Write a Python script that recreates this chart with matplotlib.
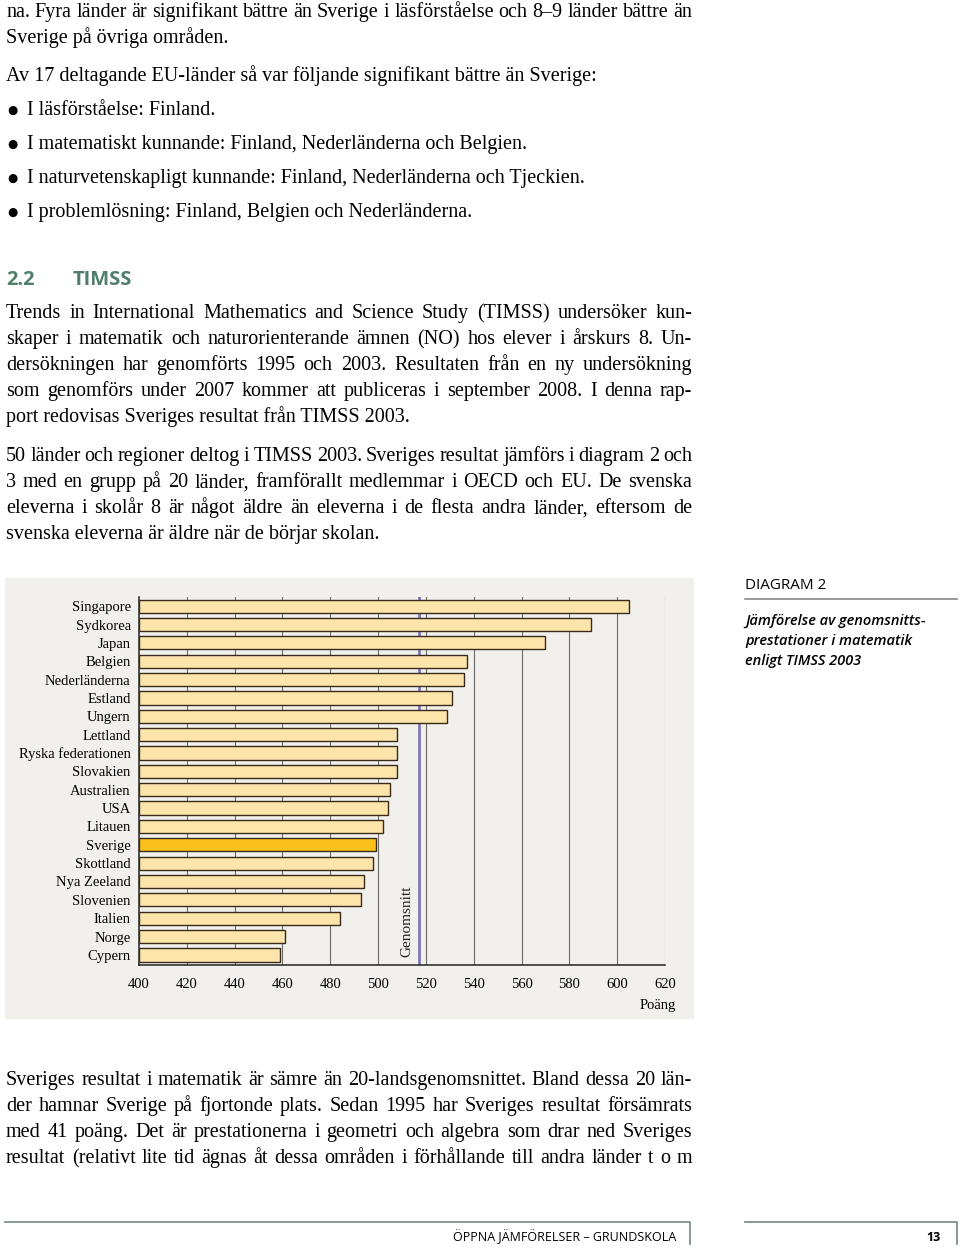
import matplotlib
matplotlib.use("Agg")
import matplotlib.pyplot as plt
from matplotlib.lines import Line2D
from matplotlib.patches import Rectangle

# Data (TIMSS 2003, mathematics, year 8)
countries = ["Singapore", "Sydkorea", "Japan", "Belgien", "Nederländerna", "Estland",
             "Ungern", "Lettland", "Ryska federationen", "Slovakien", "Australien", "USA",
             "Litauen", "Sverige", "Skottland", "Nya Zeeland", "Slovenien", "Italien",
             "Norge", "Cypern"]
scores = [605, 589, 570, 537, 536, 531, 529, 508, 508, 508, 505, 504, 502, 499, 498,
          494, 493, 484, 461, 459]
mean_score = 517
ticks = list(range(400, 621, 20))

W, H = 960, 1249
SERIF = "Liberation Serif"
SANS = "Open Sans"
BODY = 14.5

fig = plt.figure(figsize=(W / 100, H / 100), dpi=100)


def fx(x):
    return x / W


def fy(y):
    return 1 - y / H


def line(y, s, x=6, **kw):
    # y is the visual middle of the line in pixels; place on a baseline below it
    kw.setdefault("fontsize", BODY)
    kw.setdefault("family", SERIF)
    base = y + 0.27 * kw["fontsize"] * 1.389
    return fig.text(fx(x), fy(base), s, va="baseline", **kw)


def justify(y, s, x0=6, x1=692):
    words = s.split()
    objs = [line(y, w) for w in words]
    r = fig.canvas.get_renderer()
    widths = [o.get_window_extent(r).width for o in objs]
    gap = (x1 - x0 - sum(widths)) / (len(words) - 1)
    x = x0
    for o, w in zip(objs, widths):
        o.set_x(fx(x))
        x += w + gap


# ---- text above the chart ----
justify(12, "na. Fyra länder är signifikant bättre än Sverige i läsförståelse och 8–9 länder bättre än")
line(38, "Sverige på övriga områden.")
line(76, "Av 17 deltagande EU-länder så var följande signifikant bättre än Sverige:")
bullets = ["I läsförståelse: Finland.",
           "I matematiskt kunnande: Finland, Nederländerna och Belgien.",
           "I naturvetenskapligt kunnande: Finland, Nederländerna och Tjeckien.",
           "I problemlösning: Finland, Belgien och Nederländerna."]
for i, b in enumerate(bullets):
    y = 110 + 34 * i
    fig.text(fx(12), fy(y), "●", ha="center", va="center", fontsize=8.5, family="DejaVu Sans")
    line(y, b, x=27)

green = "#4f7f68"
line(280, "2.2", x=6, family=SANS, fontsize=14.5, fontweight="bold", color=green)
line(280, "TIMSS", x=73, family=SANS, fontsize=14.5, fontweight="bold", color=green)

para1 = ["Trends in International Mathematics and Science Study (TIMSS) undersöker kun-",
         "skaper i matematik och naturorienterande ämnen (NO) hos elever i årskurs 8. Un-",
         "dersökningen har genomförts 1995 och 2003. Resultaten från en ny undersökning",
         "som genomförs under 2007 kommer att publiceras i september 2008. I denna rap-"]
for i, s in enumerate(para1):
    justify(313 + 26 * i, s)
line(417, "port redovisas Sveriges resultat från TIMSS 2003.")

para2 = ["50 länder och regioner deltog i TIMSS 2003. Sveriges resultat jämförs i diagram 2 och",
         "3 med en grupp på 20 länder, framförallt medlemmar i OECD och EU. De svenska",
         "eleverna i skolår 8 är något äldre än eleverna i de flesta andra länder, eftersom de"]
for i, s in enumerate(para2):
    justify(456 + 26 * i, s)
line(534, "svenska eleverna är äldre när de börjar skolan.")

# ---- chart ----
fig.patches.append(Rectangle((fx(5), fy(1018)), (693 - 5) / W, (1018 - 578) / H,
                             transform=fig.transFigure, color="#f2f0ed", zorder=-5))

ax = fig.add_axes([fx(139), fy(965), (665 - 139) / W, (965 - 597) / H], zorder=2)
ax.set_facecolor("none")
pos = list(range(len(countries)))
colors = ["#fcc01d" if c == "Sverige" else "#fde4ab" for c in countries]
ax.barh(pos, [s - 400 for s in scores], left=400, height=0.72, color=colors,
        edgecolor="#3a2a1a", linewidth=1.0, zorder=3)
ax.set_xlim(400, 620)
ax.set_ylim(19.55, -0.5)
for t in ticks[1:]:
    ax.axvline(t, color="#6a6a6a", linewidth=0.8, zorder=1)
ax.axvline(mean_score, color="#7d78b8", linewidth=2, zorder=2)
ax.text(mean_score - 2.2, 19.1, "Genomsnitt", rotation=90, ha="right", va="bottom",
        fontsize=11, family=SERIF, color="#222")
ax.set_xticks(ticks)
ax.set_xticklabels([str(t) for t in ticks], family=SERIF, fontsize=10.5)
ax.set_yticks(pos)
ax.set_yticklabels(countries, family=SERIF, fontsize=10.5)
ax.tick_params(axis="y", length=0, pad=6)
ax.tick_params(axis="x", length=0, pad=9)
for s in ["top", "right"]:
    ax.spines[s].set_visible(False)
for s in ["left", "bottom"]:
    ax.spines[s].set_color("#222")
    ax.spines[s].set_linewidth(1.1)
line(1005, "Poäng", x=676, ha="right", fontsize=10.5)

# side caption
line(585, "DIAGRAM 2", x=745, family=SANS, fontsize=11)
fig.add_artist(Line2D([fx(745), fx(957)], [fy(599), fy(599)], color="#8a8a8a", linewidth=1.2))
for i, s in enumerate(["Jämförelse av genomsnitts-", "prestationer i matematik", "enligt TIMSS 2003"]):
    line(621 + 20 * i, s, x=745, family=SANS, fontsize=10.5, style="italic", fontweight="semibold")

# ---- text below the chart ----
para3 = ["Sveriges resultat i matematik är sämre än 20-landsgenomsnittet. Bland dessa 20 län-",
         "der hamnar Sverige på fjortonde plats. Sedan 1995 har Sveriges resultat försämrats",
         "med 41 poäng. Det är prestationerna i geometri och algebra som drar ned Sveriges",
         "resultat (relativt lite tid ägnas åt dessa områden i förhållande till andra länder t o m"]
for i, s in enumerate(para3):
    justify(1080 + 26 * i, s)

# ---- footer ----
fc = "#6f8a80"
fig.add_artist(Line2D([fx(5), fx(690), fx(690)], [fy(1222), fy(1222), fy(1244)], color=fc, linewidth=1.2))
fig.add_artist(Line2D([fx(745), fx(957), fx(957)], [fy(1222), fy(1222), fy(1244)], color=fc, linewidth=1.2))
line(1238, "ÖPPNA JÄMFÖRELSER – GRUNDSKOLA", x=676, ha="right", family=SANS, fontsize=9)
line(1238, "13", x=941, ha="right", family=SANS, fontsize=9, fontweight="bold")

fig.savefig("out.png", dpi=100, facecolor="white")
